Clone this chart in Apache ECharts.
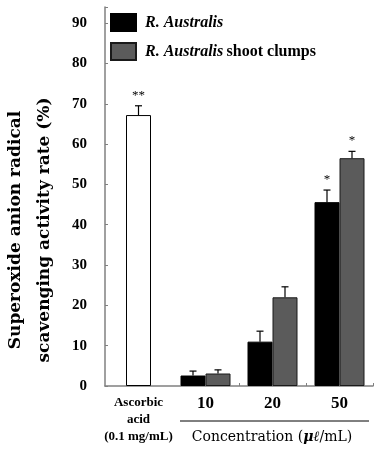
<!DOCTYPE html>
<html>
<head>
<meta charset="utf-8">
<script src="https://cdn.jsdelivr.net/npm/echarts@6/dist/echarts.min.js"></script>
<style>
  html, body { margin: 0; padding: 0; background: #fff; }
  #chart { width: 379px; height: 449px; }
</style>
</head>
<body>
<div id="chart"></div>
<script>
var categories = ["Ascorbic", "10", "20", "50"];
var ascorbic = [67.2, "-", "-", "-"];
var ascorbicErr = [2.3, 0, 0, 0];
var ascorbicStar = ["**", "", "", ""];
var plant = ["-", 2.6, 11.0, 45.6];
var plantErr = [0, 1.1, 2.6, 3.0];
var plantStar = ["", "", "", "*"];
var clumps = ["-", 3.1, 22.0, 56.5];
var clumpsErr = [0, 0.9, 2.6, 1.7];
var clumpsStar = ["", "", "", "*"];
var yTicks = [0, 10, 20, 30, 40, 50, 60, 70, 80, 90];

var serif = '"Liberation Serif", "DejaVu Serif", serif';
var wide = '"DejaVu Serif", "Liberation Serif", serif';
var BW = 25;

function errData(vals, errs, stars) {
  var out = [];
  for (var i = 0; i < vals.length; i++) {
    if (vals[i] === "-") continue;
    out.push([i, vals[i], errs[i], stars[i]]);
  }
  return out;
}

function errSeries(name, axis, vals, errs, stars, shift) {
  return {
    name: name + "_err",
    type: "custom",
    xAxisIndex: axis,
    z: 5,
    silent: true,
    data: errData(vals, errs, stars),
    encode: {x: 0, y: 1},
    renderItem: function (params, api) {
      var i = api.value(0), v = api.value(1), e = api.value(2);
      var star = stars[i];
      var base = api.coord([i, v]);
      var top = api.coord([i, v + e]);
      var x = base[0] + shift;
      return {
        type: "group",
        children: [
          {type: "line", shape: {x1: x, y1: base[1], x2: x, y2: top[1]}, style: {stroke: "#000", lineWidth: 1.2}},
          {type: "line", shape: {x1: x - 3.5, y1: top[1], x2: x + 3.5, y2: top[1]}, style: {stroke: "#000", lineWidth: 1.2}},
          {type: "text", x: x, y: top[1] - 4, style: {text: star, fill: "#000", align: "center", verticalAlign: "bottom", font: "13px " + serif}}
        ]
      };
    }
  };
}

var chart = echarts.init(document.getElementById("chart"), null, {renderer: "canvas"});
var option = {
  animation: false,
  backgroundColor: "#fff",
  grid: {left: 105, right: 6, top: 7, bottom: 63},
  legend: {
    orient: "vertical",
    left: 105,
    top: 8,
    itemWidth: 25,
    itemHeight: 17,
    itemGap: 10,
    icon: "rect",
    data: ["R. Australis", "R. Australis shoot clumps"],
    formatter: function (n) {
      if (n === "R. Australis") return "{i|R. Australis}";
      return "{i|R. Australis} {n|shoot clumps}";
    },
    textStyle: {
      padding: [0, 0, 0, 4],
      rich: {
        i: {fontFamily: serif, fontSize: 16, fontStyle: "italic", fontWeight: "bold", color: "#000"},
        n: {fontFamily: serif, fontSize: 16, fontWeight: "bold", color: "#000"}
      }
    }
  },
  xAxis: [{
    type: "category",
    data: categories,
    axisLine: {lineStyle: {color: "#808080", width: 1.5}},
    axisTick: {
      show: true, inside: true, length: 3,
      lineStyle: {color: "#808080"},
      interval: function (i) { return i === 2 || i === 3; }
    },
    axisLabel: {
      margin: 8,
      interval: 0,
      formatter: function (v, i) {
        if (i === 0) return "{a|Ascorbic}\n{a|acid}\n{a|(0.1 mg/mL)}";
        return "{b|" + v + "}";
      },
      rich: {
        a: {fontFamily: serif, fontSize: 13, fontWeight: "bold", color: "#000", lineHeight: 17},
        b: {fontFamily: serif, fontSize: 17, fontWeight: "bold", color: "#000", lineHeight: 20}
      }
    }
  }, {
    type: "category",
    data: categories,
    show: false
  }],
  yAxis: {
    type: "value",
    min: 0,
    max: 94,
    interval: 10,
    splitLine: {show: false},
    axisLine: {show: true, lineStyle: {color: "#808080", width: 1.5}},
    axisTick: {show: true, inside: true, length: 3, lineStyle: {color: "#808080"}},
    axisLabel: {
      margin: 18,
      fontFamily: serif,
      fontSize: 15,
      fontWeight: "bold",
      color: "#000",
      formatter: function (v) { return yTicks.indexOf(v) >= 0 ? String(v) : ""; }
    }
  },
  graphic: [{
    type: "text",
    x: 30,
    y: 230,
    rotation: Math.PI / 2,
    style: {
      text: "Superoxide anion radical\nscavenging activity rate (%)",
      font: "bold 17px " + wide,
      lineHeight: 29,
      align: "center",
      verticalAlign: "middle",
      fill: "#000"
    }
  }, {
    type: "line",
    shape: {x1: 180, y1: 421, x2: 369, y2: 421},
    style: {stroke: "#000", lineWidth: 1}
  }, {
    type: "text",
    x: 272,
    y: 437,
    style: {
      text: "{n|Concentration (}{m|μℓ}{n|/mL)}",
      align: "center",
      verticalAlign: "middle",
      rich: {
        n: {font: "14px " + wide, fill: "#000"},
        m: {font: "italic bold 14px " + wide, fill: "#000"}
      }
    }
  }],
  series: [{
    name: "Ascorbic acid",
    type: "bar",
    xAxisIndex: 1,
    barWidth: BW,
    data: ascorbic,
    itemStyle: {color: "#fff", borderColor: "#000", borderWidth: 1}
  }, {
    name: "R. Australis",
    type: "bar",
    barWidth: BW,
    barGap: "0%",
    data: plant,
    itemStyle: {color: "#000", borderColor: "#000", borderWidth: 1}
  }, {
    name: "R. Australis shoot clumps",
    type: "bar",
    barWidth: BW,
    barGap: "0%",
    data: clumps,
    itemStyle: {color: "#5b5b5b", borderColor: "#1a1a1a", borderWidth: 1}
  },
    errSeries("ascorbic", 1, ascorbic, ascorbicErr, ascorbicStar, 0),
    errSeries("plant", 0, plant, plantErr, plantStar, -BW / 2),
    errSeries("clumps", 0, clumps, clumpsErr, clumpsStar, BW / 2)
  ]
};
chart.setOption(option);
</script>
</body>
</html>
